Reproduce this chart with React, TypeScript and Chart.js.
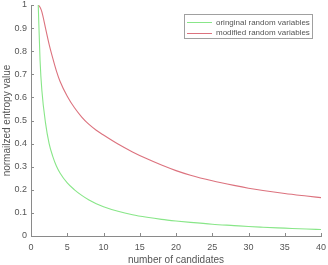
import React, { useEffect, useRef } from "react";
import { Chart, registerables } from "chart.js";

Chart.register(...registerables);

// Number of candidates at which each curve is sampled
const candidates = [1, 1.25, 1.5, 2, 2.5, 3, 3.5, 4, 5, 6, 7, 8, 9, 10, 12, 14, 16, 18, 20, 22, 25, 28, 30, 32, 35, 38, 40];

// Normalized entropy of the original random variables
const originalEntropy = [1.0, 0.76, 0.63, 0.49, 0.4, 0.345, 0.303, 0.273, 0.23, 0.2, 0.176, 0.156, 0.14, 0.127, 0.107, 0.092, 0.081, 0.072, 0.065, 0.059, 0.051, 0.045, 0.041, 0.038, 0.034, 0.03, 0.028];

// Normalized entropy of the modified random variables
const modifiedEntropy = [1.0, 0.99, 0.97, 0.9, 0.83, 0.77, 0.715, 0.67, 0.605, 0.555, 0.515, 0.483, 0.458, 0.437, 0.398, 0.364, 0.334, 0.307, 0.283, 0.263, 0.239, 0.219, 0.207, 0.197, 0.184, 0.173, 0.166];

const seriesLabels = ["oringinal random variables", "modified random variables"];
const seriesColors = ["#88e688", "#dc727e"];

const xTitle = "number of candidates";
const yTitle = "normailzed entropy value";

const FONT = "'Liberation Sans', Arial, sans-serif";
const TEXT = "#555555";
const AXIS = "#8a8a8a";

// Inward-pointing tick marks on the left and bottom axes
const innerTicks = {
  id: "innerTicks",
  afterDraw(chart: any) {
    const { ctx, scales } = chart;
    const xs = scales.x;
    const ys = scales.y;
    ctx.save();
    ctx.strokeStyle = AXIS;
    ctx.lineWidth = 1;
    ctx.beginPath();
    xs.ticks.forEach((t: any) => {
      const px = Math.round(xs.getPixelForValue(t.value)) + 0.5;
      ctx.moveTo(px, ys.bottom);
      ctx.lineTo(px, ys.bottom - 3);
    });
    ys.ticks.forEach((t: any) => {
      const py = Math.round(ys.getPixelForValue(t.value)) + 0.5;
      ctx.moveTo(xs.left, py);
      ctx.lineTo(xs.left + 3, py);
    });
    ctx.stroke();
    ctx.restore();
  },
};

// Boxed legend in the upper right corner
const boxLegend = {
  id: "boxLegend",
  afterDraw(chart: any) {
    const { ctx } = chart;
    const left = 184.5;
    const top = 14.5;
    const w = 128;
    const h = 24;
    ctx.save();
    ctx.fillStyle = "#ffffff";
    ctx.fillRect(left, top, w, h);
    ctx.strokeStyle = "#a0a0a0";
    ctx.lineWidth = 1;
    ctx.strokeRect(left, top, w, h);
    ctx.font = `8px ${FONT}`;
    ctx.textBaseline = "middle";
    ctx.textAlign = "left";
    seriesLabels.forEach((label, i) => {
      const y = 22 + i * 10.7;
      ctx.strokeStyle = seriesColors[i];
      ctx.beginPath();
      ctx.moveTo(187, Math.round(y) + 0.5);
      ctx.lineTo(212, Math.round(y) + 0.5);
      ctx.stroke();
      ctx.fillStyle = TEXT;
      ctx.fillText(label, 216, y + 0.5);
    });
    ctx.restore();
  },
};

export default function App() {
  const canvasRef = useRef<HTMLCanvasElement | null>(null);

  useEffect(() => {
    const canvas = canvasRef.current;
    if (!canvas) return;
    const toPoints = (vals: number[]) => candidates.map((x, i) => ({ x, y: vals[i] }));
    const chart = new Chart(canvas, {
      type: "line",
      data: {
        datasets: [
          {
            label: seriesLabels[0],
            data: toPoints(originalEntropy),
            borderColor: seriesColors[0],
            borderWidth: 1.1,
            pointRadius: 0,
            cubicInterpolationMode: "monotone",
          },
          {
            label: seriesLabels[1],
            data: toPoints(modifiedEntropy),
            borderColor: seriesColors[1],
            borderWidth: 1.1,
            pointRadius: 0,
            cubicInterpolationMode: "monotone",
          },
        ],
      },
      options: {
        animation: false,
        responsive: false,
        devicePixelRatio: 1,
        layout: { padding: { top: 5, right: 7, left: 0, bottom: 0 } },
        plugins: { legend: { display: false }, tooltip: { enabled: false } },
        scales: {
          x: {
            type: "linear",
            min: 0,
            max: 40,
            grid: { display: true, drawOnChartArea: false, drawTicks: false },
            border: { display: true, color: AXIS, width: 1 },
            ticks: {
              stepSize: 5,
              padding: 6,
              maxRotation: 0,
              color: TEXT,
              font: { family: FONT, size: 9 },
            },
            title: {
              display: true,
              text: xTitle,
              color: TEXT,
              font: { family: FONT, size: 10, lineHeight: 1 },
              padding: { top: 0, bottom: 0 },
            },
            afterFit(scale: any) {
              scale.height = 29;
              scale.paddingLeft = 0;
              scale.paddingRight = 0;
            },
          },
          y: {
            type: "linear",
            min: 0,
            max: 1,
            grid: { display: true, drawOnChartArea: false, drawTicks: false },
            border: { display: true, color: AXIS, width: 1 },
            ticks: {
              stepSize: 0.1,
              padding: 4,
              color: TEXT,
              font: { family: FONT, size: 9 },
              callback: (v: any) => String(Math.round(Number(v) * 10) / 10),
            },
            title: {
              display: true,
              text: yTitle,
              color: TEXT,
              font: { family: FONT, size: 10, lineHeight: 1.2 },
              padding: { top: 1, bottom: 0 },
            },
            afterFit(scale: any) {
              scale.width = 31;
              scale.paddingTop = 0;
              scale.paddingBottom = 0;
            },
          },
        },
      },
      plugins: [innerTicks, boxLegend],
    });
    return () => chart.destroy();
  }, []);

  return (
    <div style={{ position: "fixed", left: 0, top: 0, width: 328, height: 265, background: "#ffffff" }}>
      <canvas ref={canvasRef} width={328} height={265} style={{ display: "block", width: 328, height: 265 }} />
    </div>
  );
}
